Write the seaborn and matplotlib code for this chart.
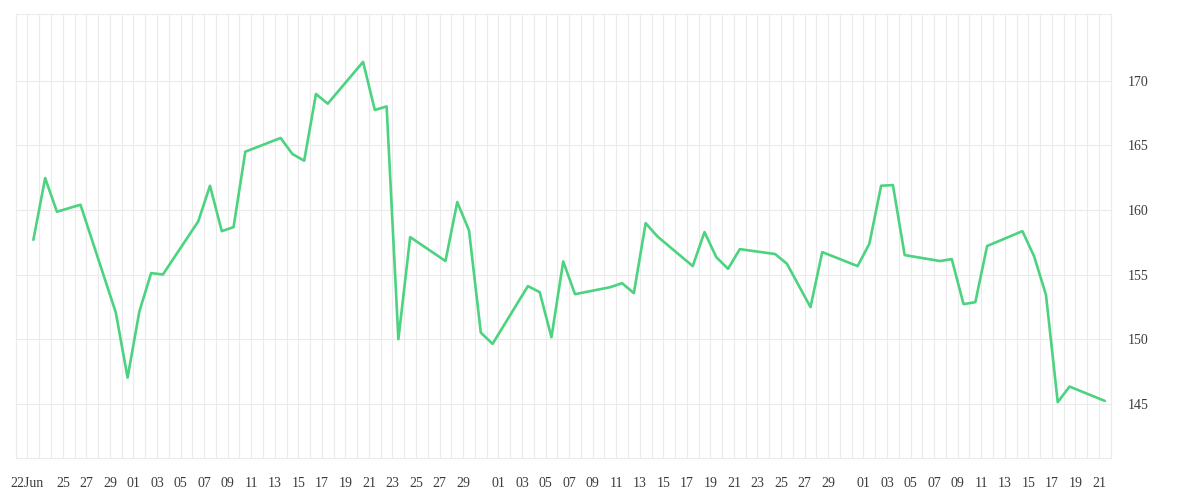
import pandas as pd
import matplotlib
matplotlib.use('Agg')
import matplotlib.pyplot as plt
import matplotlib.ticker as mticker
import matplotlib.dates as mdates
import seaborn as sns

# trading days (2020) and closing values
dates = [
    "2020-06-22", "2020-06-23", "2020-06-24", "2020-06-26", "2020-06-29", "2020-06-30",
    "2020-07-01", "2020-07-02", "2020-07-03", "2020-07-06", "2020-07-07", "2020-07-08",
    "2020-07-09", "2020-07-10", "2020-07-13", "2020-07-14", "2020-07-15", "2020-07-16",
    "2020-07-17", "2020-07-20", "2020-07-21", "2020-07-22", "2020-07-23", "2020-07-24",
    "2020-07-27", "2020-07-28", "2020-07-29", "2020-07-30", "2020-07-31",
    "2020-08-03", "2020-08-04", "2020-08-05", "2020-08-06", "2020-08-07", "2020-08-10",
    "2020-08-11", "2020-08-12", "2020-08-13", "2020-08-14", "2020-08-17", "2020-08-18",
    "2020-08-19", "2020-08-20", "2020-08-21", "2020-08-24", "2020-08-25", "2020-08-27",
    "2020-08-28", "2020-08-31",
    "2020-09-01", "2020-09-02", "2020-09-03", "2020-09-04", "2020-09-07", "2020-09-08",
    "2020-09-09", "2020-09-10", "2020-09-11", "2020-09-14", "2020-09-15", "2020-09-16",
    "2020-09-17", "2020-09-18", "2020-09-21",
]
values = [
    157.70, 162.47, 159.87, 160.41, 152.08, 147.05, 152.16, 155.13, 155.02, 159.12,
    161.88, 158.37, 158.68, 164.51, 165.57, 164.33, 163.81, 168.97, 168.22, 171.45,
    167.73, 168.01, 150.02, 157.91, 156.06, 160.62, 158.42, 150.53, 149.66, 154.12,
    153.66, 150.17, 156.03, 153.50, 154.04, 154.35, 153.58, 158.99, 157.96, 155.67,
    158.30, 156.36, 155.46, 156.98, 156.60, 155.85, 152.50, 156.75, 155.67, 157.39,
    161.88, 161.93, 156.52, 156.06, 156.21, 152.73, 152.88, 157.22, 158.37, 156.41,
    153.45, 145.15, 146.36, 145.25,
]
y_ticks = [145, 150, 155, 160, 165, 170]

GRID = '#ebebeb'
LINE = '#4cd37f'
TEXT = '#3c3c3c'

sns.set_theme(style='white')
plt.rcParams['font.family'] = ['Liberation Serif', 'DejaVu Serif']

df = pd.DataFrame({'date': pd.to_datetime(dates) + pd.Timedelta(hours=12), 'value': values})

fig = plt.figure(figsize=(12, 5), dpi=100)
ax = fig.add_axes([0.0131, 0.084, 0.9125, 0.888])

sns.lineplot(data=df, x='date', y='value', color=LINE, linewidth=1.9, ax=ax)

# daily ticks; labels on odd days plus the first day
days = pd.date_range('2020-06-21', '2020-09-22', freq='D')
labels = []
for d in days:
    if d == pd.Timestamp('2020-06-22'):
        labels.append('22Jun')
    elif d.day % 2 == 1 and d.day != 31 and d > pd.Timestamp('2020-06-24') and d < pd.Timestamp('2020-09-22'):
        labels.append(f'{d.day:02d}')
    else:
        labels.append('')
ax.xaxis.set_major_locator(mticker.FixedLocator(mdates.date2num(days)))
ax.xaxis.set_major_formatter(mticker.FixedFormatter(labels))
ax.set_xlim(mdates.date2num(pd.Timestamp('2020-06-21')), mdates.date2num(pd.Timestamp('2020-09-22')))

ax.yaxis.tick_right()
ax.set_yticks(y_ticks)
ax.set_ylim(140.84, 175.15)

ax.grid(True, color=GRID, linewidth=0.8)
for s in ax.spines.values():
    s.set_color(GRID)
    s.set_linewidth(0.8)

ax.tick_params(axis='x', length=6.5, width=0.8, color=GRID, pad=7, labelsize=10, labelcolor=TEXT)
ax.tick_params(axis='y', length=0, pad=12, labelsize=10, labelcolor=TEXT)
ax.set_xlabel('')
ax.set_ylabel('')

fig.savefig('out.png', dpi=100)
